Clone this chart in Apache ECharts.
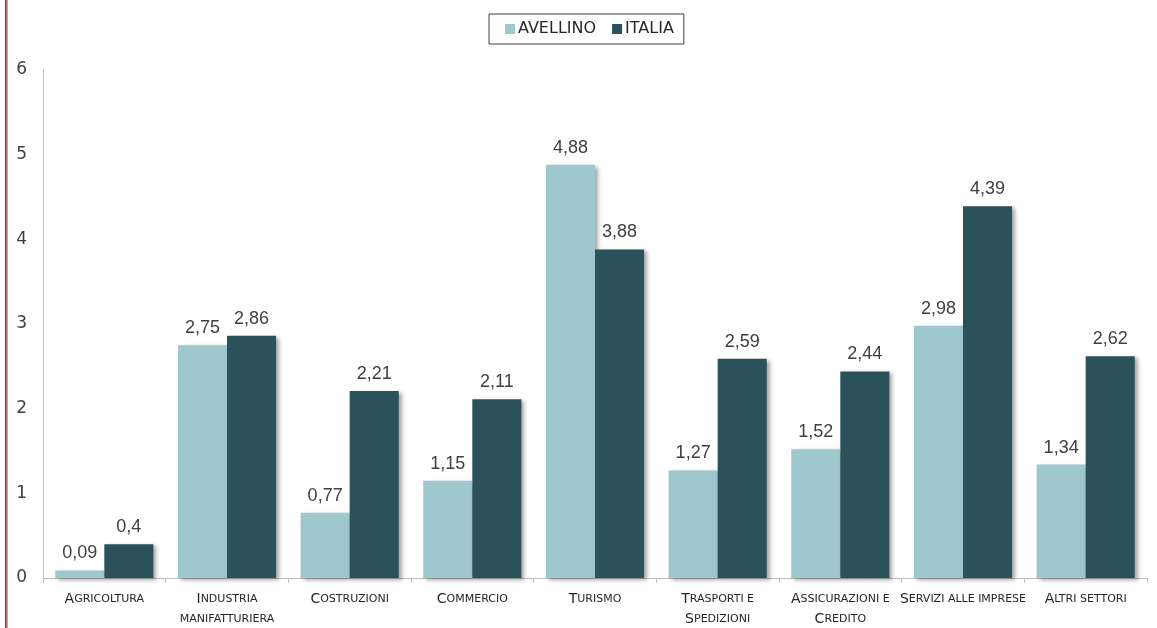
<!DOCTYPE html>
<html>
<head>
<meta charset="utf-8">
<script src="https://cdn.jsdelivr.net/npm/echarts@6/dist/echarts.min.js"></script>
<style>
  html, body { margin: 0; padding: 0; background: #fff; }
  #chart { width: 1157px; height: 628px; }
</style>
</head>
<body>
<div id="chart"></div>
<script>
// categorie (maiuscoletto: iniziali grandi, resto piccolo)
var categories = [
  ['Agricoltura'],
  ['Industria', 'manifatturiera'],
  ['Costruzioni'],
  ['Commercio'],
  ['Turismo'],
  ['Trasporti e', 'Spedizioni'],
  ['Assicurazioni e', 'Credito'],
  ['Servizi alle imprese'],
  ['Altri settori']
];
var avellino = [0.09, 2.75, 0.77, 1.15, 4.88, 1.27, 1.52, 2.98, 1.34];
var italia   = [0.4, 2.86, 2.21, 2.11, 3.88, 2.59, 2.44, 4.39, 2.62];
var yTicks = [0, 1, 2, 3, 4, 5, 6];

var catFont = 'DejaVu Sans, sans-serif';

// small caps con rich text
function smallCaps(line) {
  var out = '';
  var buf = '';
  var big = false;
  for (var i = 0; i < line.length; i++) {
    var ch = line.charAt(i);
    var isUp = ch !== ' ' && ch === ch.toUpperCase() && ch !== ch.toLowerCase();
    if (isUp !== big && buf) {
      out += '{' + (big ? 'b' : 's') + '|' + buf + '}';
      buf = '';
    }
    big = isUp;
    buf += ch.toUpperCase();
  }
  if (buf) out += '{' + (big ? 'b' : 's') + '|' + buf + '}';
  return out;
}

var catNames = categories.map(function (c) { return c.join('\n'); });

var myChart = echarts.init(document.getElementById('chart'));

var barShadow = {
  shadowColor: 'rgba(0,0,0,0.35)',
  shadowBlur: 4,
  shadowOffsetX: 3,
  shadowOffsetY: 2
};

var valueLabel = {
  show: true,
  position: 'top',
  distance: 8,
  fontFamily: 'Liberation Sans, Arial, sans-serif',
  fontSize: 18,
  color: '#404040',
  formatter: function (p) { return String(p.value).replace('.', ','); }
};

var option = {
  animation: false,
  backgroundColor: '#fff',
  legend: {
    data: ['AVELLINO', 'ITALIA'],
    left: 489,
    top: 14,
    padding: [7, 10, 7, 16],
    borderColor: '#404040',
    borderWidth: 1,
    itemWidth: 10,
    itemHeight: 10,
    itemGap: 16,
    icon: 'rect',
    textStyle: { fontFamily: catFont, fontSize: 16, color: '#262626', padding: [0, 0, 0, -2] }
  },
  grid: { left: 43, right: 10, top: 70, bottom: 50, containLabel: false },
  xAxis: {
    type: 'category',
    data: catNames,
    axisLine: { lineStyle: { color: '#bfbfbf', width: 1 } },
    axisTick: { show: true, length: 5, lineStyle: { color: '#bfbfbf' } },
    axisLabel: {
      interval: 0,
      margin: 11,
      color: '#262626',
      formatter: function (v) {
        return v.split('\n').map(smallCaps).join('\n');
      },
      rich: {
        b: { fontFamily: catFont, fontSize: 14, color: '#262626', lineHeight: 20 },
        s: { fontFamily: catFont, fontSize: 11, color: '#262626', lineHeight: 20 }
      }
    }
  },
  yAxis: {
    type: 'value',
    min: 0,
    max: 6,
    interval: 1,
    splitLine: { show: false },
    axisLine: { show: true, lineStyle: { color: '#bfbfbf', width: 1 } },
    axisTick: { show: false },
    axisLabel: {
      margin: 16,
      fontFamily: catFont,
      fontSize: 17,
      color: '#404040',
      formatter: function (v) { return yTicks.indexOf(v) >= 0 ? String(v) : ''; }
    }
  },
  series: [
    {
      name: 'AVELLINO',
      type: 'bar',
      data: avellino,
      barGap: '0%',
      barCategoryGap: '20%',
      itemStyle: Object.assign({ color: '#9fc7ce' }, barShadow),
      label: valueLabel
    },
    {
      name: 'ITALIA',
      type: 'bar',
      data: italia,
      barGap: '0%',
      barCategoryGap: '20%',
      itemStyle: Object.assign({ color: '#2b525a' }, barShadow),
      label: valueLabel
    }
  ],
  graphic: [
    { type: 'rect', shape: { x: 5, y: 0, width: 1.5, height: 628 }, style: { fill: '#555' } },
    { type: 'rect', shape: { x: 6.5, y: 0, width: 1, height: 628 }, style: { fill: '#c0392b' } }
  ]
};

myChart.setOption(option);
</script>
</body>
</html>
